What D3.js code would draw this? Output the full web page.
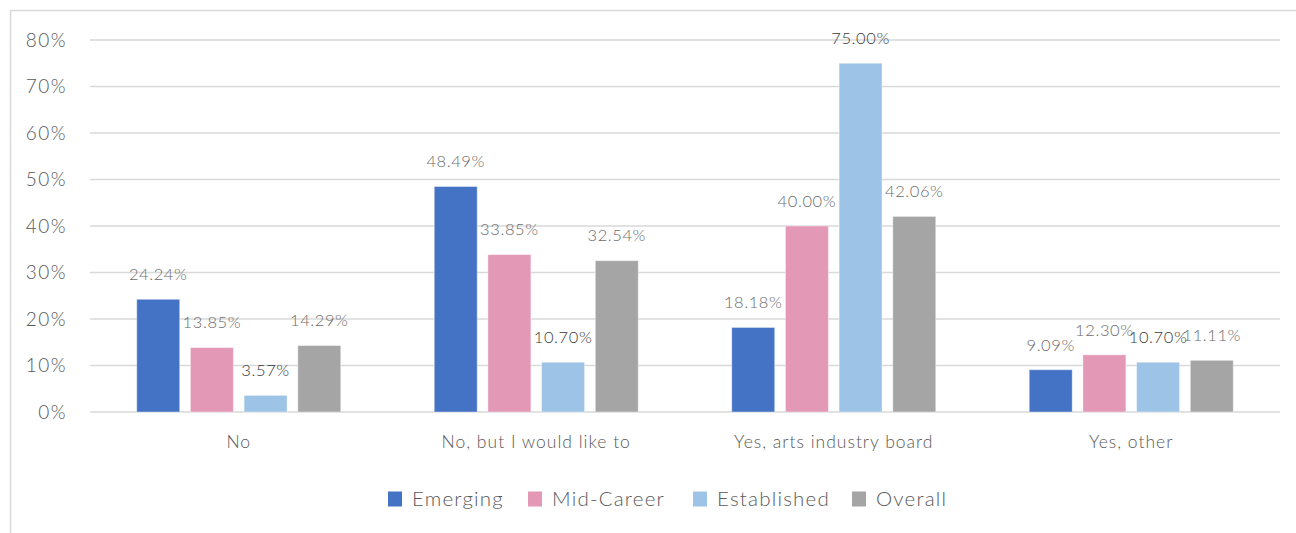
<!DOCTYPE html>
<html>
<head>
<meta charset="utf-8">
<script src="https://cdn.jsdelivr.net/npm/d3@7"></script>
<style>
  body { margin: 0; background: #fff; }
  text { font-family: Lato, "Open Sans", sans-serif; font-weight: 300; }
</style>
</head>
<body>
<svg id="chart" width="1296" height="533"></svg>
<script>
// data
let categories = ['No', 'No, but I would like to', 'Yes, arts industry board', 'Yes, other']
let series = ['Emerging', 'Mid-Career', 'Established', 'Overall']
let emerging = [24.24, 48.49, 18.18, 9.09]
let midCareer = [13.85, 33.85, 40.00, 12.30]
let established = [3.57, 10.70, 75.00, 10.70]
let overall = [14.29, 32.54, 42.06, 11.11]
let yTicks = [0, 10, 20, 30, 40, 50, 60, 70, 80]

let colors = ['#4472c4', '#e398b6', '#9dc3e6', '#a5a5a5']
let labelColors = ['#6b6b6b', '#6b6b6b', '#3a3a3a', '#6b6b6b']

let values = [emerging, midCareer, established, overall]
let rows = []
categories.forEach((c, i) => {
    series.forEach((s, j) => {
        rows.push({cat: c, s: s, j: j, v: values[j][i]})
    })
})

let svg = d3.select('#chart')

// chart frame
svg.append('path')
    .attr('d', 'M10.5,533 V10.5 H1296')
    .attr('fill', 'none')
    .attr('stroke', '#d9d9d9')
    .attr('stroke-width', 1.5)

let x0 = d3.scaleBand()
    .domain(categories)
    .range([90, 1280])
    .paddingInner(0)
    .paddingOuter(0)

let y = d3.scaleLinear()
    .domain([0, 80])
    .range([412, 40])

// group width ~204 of 297.5 band
let groupPad = (x0.bandwidth() - 204) / 2
let x1 = d3.scaleBand()
    .domain(series)
    .range([groupPad, x0.bandwidth() - groupPad])
    .paddingInner(0.2)
    .paddingOuter(0)

// gridlines
svg.append('g')
    .selectAll('line')
    .data(yTicks)
    .enter()
    .append('line')
    .attr('x1', 90)
    .attr('x2', 1280)
    .attr('y1', d => y(d))
    .attr('y2', d => y(d))
    .attr('stroke', '#d9d9d9')
    .attr('stroke-width', 1.5)

// y tick labels
svg.append('g')
    .selectAll('text')
    .data(yTicks)
    .enter()
    .append('text')
    .attr('x', 67)
    .attr('y', d => y(d))
    .attr('dy', '0.35em')
    .attr('text-anchor', 'end')
    .attr('font-size', '19px')
    .attr('letter-spacing', '1.5px')
    .attr('fill', '#595959')
    .text(d => d + '%')

// bars
svg.append('g')
    .selectAll('rect')
    .data(rows)
    .enter()
    .append('rect')
    .attr('x', d => x0(d.cat) + x1(d.s))
    .attr('y', d => y(d.v))
    .attr('width', x1.bandwidth())
    .attr('height', d => y(0) - y(d.v))
    .attr('fill', d => colors[d.j])
    .attr('stroke', '#ffffff')
    .attr('stroke-opacity', 0.4)
    .attr('stroke-width', 1)

// value labels
svg.append('g')
    .selectAll('text')
    .data(rows)
    .enter()
    .append('text')
    .attr('x', d => x0(d.cat) + x1(d.s) + x1.bandwidth() / 2)
    .attr('y', d => y(d.v) - 25)
    .attr('dy', '0.35em')
    .attr('text-anchor', 'middle')
    .attr('font-size', '16.5px')
    .attr('letter-spacing', '0.6px')
    .attr('fill', d => labelColors[d.j])
    .text(d => d.v.toFixed(2) + '%')

// category labels
svg.append('g')
    .selectAll('text')
    .data(categories)
    .enter()
    .append('text')
    .attr('x', d => x0(d) + x0.bandwidth() / 2)
    .attr('y', 442)
    .attr('dy', '0.35em')
    .attr('text-anchor', 'middle')
    .attr('font-size', '17.5px')
    .attr('letter-spacing', '1px')
    .attr('fill', '#595959')
    .text(d => d)

// legend
let legendX = [388, 528, 693, 852]
let legend = svg.append('g')
    .selectAll('g')
    .data(series)
    .enter()
    .append('g')
    .attr('transform', (d, i) => 'translate(' + legendX[i] + ',499)')
legend.append('rect')
    .attr('x', 0)
    .attr('y', -7.5)
    .attr('width', 14)
    .attr('height', 15)
    .attr('fill', (d, i) => colors[i])
legend.append('text')
    .attr('x', 24)
    .attr('y', 0)
    .attr('dy', '0.35em')
    .attr('font-size', '20.5px')
    .attr('letter-spacing', '1.2px')
    .attr('fill', '#595959')
    .text(d => d)
</script>
</body>
</html>
